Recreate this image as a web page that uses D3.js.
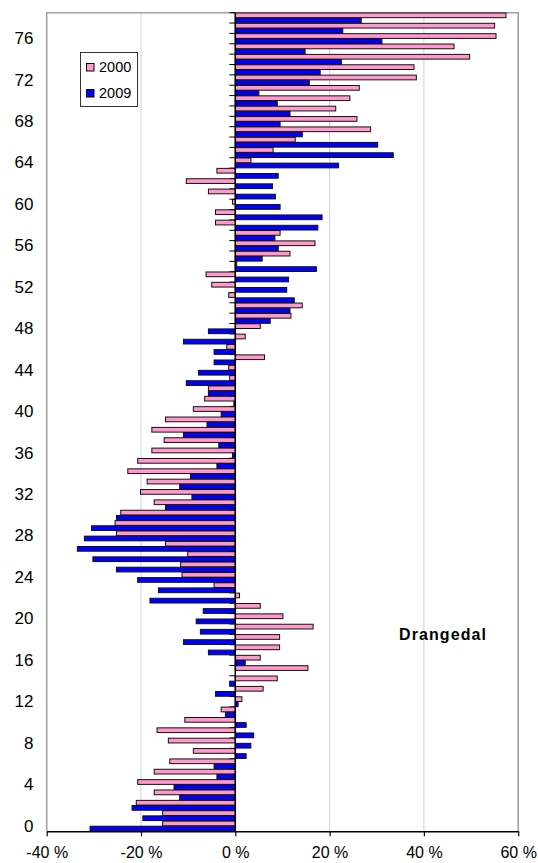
<!DOCTYPE html>
<html>
<head>
<meta charset="utf-8">
<script src="https://cdn.jsdelivr.net/npm/d3@7"></script>
<style>
  html, body { margin: 0; padding: 0; background: #fff; }
  svg { display: block; font-family: "Liberation Sans", Arial, sans-serif; }
</style>
</head>
<body>
<svg id="chart" width="538" height="863"></svg>
<script>
// ---- data ----
const ages = d3.range(0, 79);
const seriesNames = ["2000", "2009"];
const values2000 = [-15.4, -15.4, -21.0, -17.2, -20.7, -17.2, -13.9, -8.9, -14.2, -16.6,
  -10.7, -3.0, 1.4, 5.9, 8.9, 15.4, 5.3, 9.4, 9.4, 16.5,
  10.1, 5.3, 0.9, -4.5, -11.3, -11.6, -10.1, -14.8, -25.2, -25.5,
  -24.3, -17.2, -20.1, -18.7, -22.8, -20.7, -17.7, -15.1, -17.7, -14.8,
  -8.9, -6.5, -5.7, -1.2, -1.4, 6.2, -1.8, 2.1, 5.3, 11.8,
  14.2, -1.4, -5.0, -6.2, 0.3, 11.6, 16.9, 9.5, -4.2, -4.2,
  -0.6, -5.7, -10.4, -3.9, 3.3, 8.0, 12.7, 28.7, 25.8, 21.3,
  24.3, 26.3, 38.4, 37.9, 49.7, 46.4, 55.3, 55.0, 57.4];
const values2009 = [-30.8, -19.6, -21.9, -11.8, -13.0, -3.9, -4.5, 2.3, 3.3, 3.9,
  2.3, -2.1, 0.6, -4.2, -1.2, 0.0, 2.1, -5.7, -11.0, -7.4,
  -8.3, -6.8, -18.1, -16.3, -20.7, -25.2, -30.2, -33.5, -32.0, -30.5,
  -25.2, -14.8, -9.2, -11.8, -9.5, -3.9, -0.6, -3.5, -11.0, -6.0,
  -3.0, -0.3, -5.7, -10.4, -7.8, -4.5, -4.5, -11.0, -5.7, 7.4,
  11.6, 12.5, 10.9, 11.3, 17.2, 5.7, 9.1, 8.4, 17.5, 18.4,
  9.5, 8.5, 7.9, 9.1, 21.9, 33.5, 30.2, 14.2, 9.5, 11.6,
  8.9, 5.0, 15.7, 18.0, 22.5, 14.8, 31.1, 22.8, 26.7];
const xTicks = [-40, -20, 0, 20, 40, 60];
const yTickLabels = [0, 4, 8, 12, 16, 20, 24, 28, 32, 36, 40, 44, 48, 52, 56, 60, 64, 68, 72, 76];
const colors = { "2000": "#FF99CC", "2009": "#0000FF" };
const title = "Drangedal";

// ---- layout ----
const svg = d3.select("#chart");
const pLeft = 46.7, pRight = 518.2, pTop = 12.7, pBottom = 831.2;

const x = d3.scaleLinear().domain([-40, 60]).range([pLeft, pRight]);
const y = d3.scaleBand().domain(ages.slice().reverse()).range([pTop, pBottom]).padding(0);
const ys = d3.scaleBand().domain(seriesNames).range([0, y.bandwidth()]).paddingInner(0.08).paddingOuter(0.05);

const rows = ages.map((a, i) => ({ age: a, "2000": values2000[i], "2009": values2009[i] }));

// gridlines
svg.append("g").selectAll("line")
  .data(xTicks.filter(t => t !== -40 && t !== 60 && t !== 0))
  .join("line")
  .attr("x1", d => x(d)).attr("x2", d => x(d))
  .attr("y1", pTop).attr("y2", pBottom)
  .attr("stroke", "#ccccf5").attr("stroke-width", 1);

// frame (left, top, right)
svg.append("path")
  .attr("d", `M${pLeft},${pBottom}V${pTop}H${pRight}V${pBottom}`)
  .attr("fill", "none").attr("stroke", "#a0a0a8").attr("stroke-width", 1.6);

// category ticks on zero axis (band boundaries)
const bounds = ages.map(a => y(a)).concat([pBottom]);
svg.append("g").selectAll("line")
  .data(bounds)
  .join("line")
  .attr("x1", x(0) - 6).attr("x2", x(0))
  .attr("y1", d => d).attr("y2", d => d)
  .attr("stroke", "#000").attr("stroke-width", 1);

// bars
const g = svg.append("g");
rows.forEach(r => {
  seriesNames.forEach(s => {
    const v = r[s];
    g.append("rect")
      .attr("x", x(Math.min(0, v)))
      .attr("y", y(r.age) + ys(s))
      .attr("width", Math.abs(x(v) - x(0)))
      .attr("height", ys.bandwidth())
      .attr("fill", colors[s])
      .attr("stroke", "#111")
      .attr("stroke-width", 1);
  });
});

// zero axis line
svg.append("line")
  .attr("x1", x(0)).attr("x2", x(0)).attr("y1", pTop).attr("y2", pBottom)
  .attr("stroke", "#000").attr("stroke-width", 1.5);

// x axis
const xAxis = d3.axisBottom(x).tickValues(xTicks).tickFormat(d => d + " %")
  .tickSize(5).tickPadding(10).tickSizeOuter(0);
const xg = svg.append("g").attr("transform", `translate(0,${pBottom})`).call(xAxis);
xg.select(".domain").attr("stroke", "#000").attr("stroke-width", 1.5);
xg.selectAll(".tick line").attr("stroke", "#000").attr("stroke-width", 1.2);
xg.selectAll(".tick text").attr("font-size", 16).attr("fill", "#000")
  .attr("font-family", "Liberation Sans, Arial, sans-serif");

// y labels
svg.append("g").selectAll("text")
  .data(yTickLabels)
  .join("text")
  .attr("x", 33.5)
  .attr("y", d => y(d) + y.bandwidth() / 2)
  .attr("text-anchor", "end")
  .attr("dominant-baseline", "central")
  .attr("font-size", 17)
  .attr("fill", "#000")
  .text(d => d);

// legend
const lg = svg.append("g");
lg.append("rect").attr("x", 80.5).attr("y", 52.5).attr("width", 57).attr("height", 54)
  .attr("fill", "#fff").attr("stroke", "#333").attr("stroke-width", 1);
seriesNames.forEach((s, i) => {
  const cy = 67 + i * 26;
  lg.append("rect").attr("x", 86.5).attr("y", cy - 3.5).attr("width", 7.5).attr("height", 7.5)
    .attr("fill", colors[s]).attr("stroke", "#000").attr("stroke-width", 1);
  lg.append("text").attr("x", 99).attr("y", cy).attr("dominant-baseline", "central")
    .attr("font-size", 14.5).attr("fill", "#000").text(s);
});

// title label
svg.append("text")
  .attr("x", 399).attr("y", 634.5)
  .attr("dominant-baseline", "central")
  .attr("font-size", 16).attr("font-weight", "bold").attr("letter-spacing", 1.1)
  .attr("fill", "#000")
  .text(title);
</script>
</body>
</html>
